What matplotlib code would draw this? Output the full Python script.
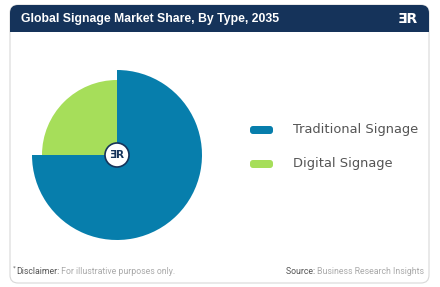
import matplotlib
matplotlib.use('Agg')
import matplotlib.pyplot as plt
from matplotlib.patches import FancyBboxPatch, Circle, Rectangle

labels = ['Traditional Signage', 'Digital Signage']
shares = [75, 25]
radii = [85, 75]
colors = ['#077EAC', '#A6DE5A']

W, H = 440, 287
fig = plt.figure(figsize=(W / 100, H / 100), dpi=100)
fig.patch.set_facecolor('white')

# background layer in pixel coordinates (y down)
bg = fig.add_axes([0, 0, 1, 1])
bg.set_xlim(0, W)
bg.set_ylim(H, 0)
bg.axis('off')

card = FancyBboxPatch((10, 5), 419, 278, boxstyle='round,pad=0,rounding_size=8',
                      fc='white', ec='#d8d8d8', lw=0.8)
bg.add_patch(card)
header = FancyBboxPatch((10, 5), 419, 27, boxstyle='round,pad=0,rounding_size=8',
                        fc='#15335A', ec='none')
bg.add_patch(header)
bg.add_patch(Rectangle((10, 20), 419, 12, fc='#15335A', ec='none'))
bg.text(21, 19, 'Global Signage Market Share, By Type, 2035', color='white',
        fontsize=8.8, fontweight='bold', family='Liberation Sans', va='center', ha='left')
bg.text(418, 19, 'ƎR', color='white', fontsize=10, fontweight='bold',
        va='center', ha='right')

# legend
leg_y = [130, 164]
for lab, col, y in zip(labels, colors, leg_y):
    bg.add_patch(FancyBboxPatch((250, y - 4), 23, 8, boxstyle='round,pad=0,rounding_size=3',
                                fc=col, ec='none'))
    bg.text(293, y, lab, color='#555555', fontsize=9.4, va='center', ha='left')

# footer
foot = dict(fontsize=6.3, family='Roboto', va='center')
bg.text(13, 268, '*', color='#555555', fontsize=4, va='center', ha='left')
d = bg.text(16, 272, 'Disclaimer:', color='#555555', ha='left', **foot)
bg.annotate(' For illustrative purposes only.', xy=(1, 0.5), xycoords=d, color='#aaaaaa',
            ha='left', **foot)
s = bg.text(424, 272, 'Business Research Insights', color='#aaaaaa', ha='right', **foot)
bg.annotate('Source: ', xy=(0, 0.5), xycoords=s, color='#555555', ha='right', **foot)

# pie
cx, cy, half = 117, 155, 95
ax = fig.add_axes([(cx - half) / W, (H - cy - half) / H, 2 * half / W, 2 * half / H])

wedges, _ = ax.pie(shares, colors=colors, startangle=90, counterclock=False,
                   radius=radii[0], wedgeprops=dict(linewidth=0))
for w, r in zip(wedges, radii):
    w.set_radius(r)
wedges[1].set_zorder(1)
wedges[0].set_zorder(2)

ax.add_patch(Circle((0, 0), 12, fc='white', ec='#15335A', lw=1.2, zorder=5))
ax.text(0, 0, 'ƎR', color='#15335A', fontsize=7.5, fontweight='bold',
        ha='center', va='center', zorder=6)
ax.set_xlim(-half, half)
ax.set_ylim(-half, half)
ax.set_aspect('equal')
ax.axis('off')

fig.savefig('out.png', dpi=100)
